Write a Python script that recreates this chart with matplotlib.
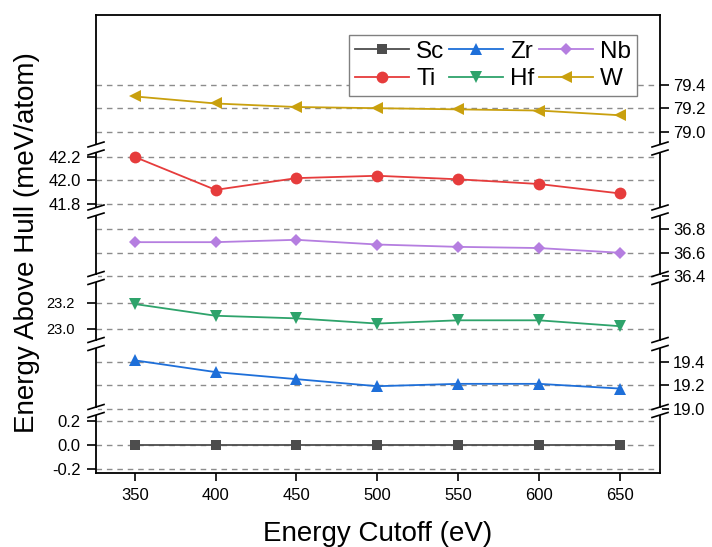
import matplotlib
matplotlib.use("Agg")
import matplotlib.pyplot as plt
from matplotlib.lines import Line2D
from matplotlib.patches import Rectangle

plt.rcParams['font.family'] = ['Liberation Sans', 'DejaVu Sans']
plt.rcParams['axes.unicode_minus'] = False

# ---- data: energy above hull (meV/atom) vs plane-wave cutoff (eV) ----
cutoff = [350, 400, 450, 500, 550, 600, 650]
xticks = [350, 400, 450, 500, 550, 600, 650]

e_sc = [0.00, 0.00, 0.00, 0.00, 0.00, 0.00, 0.00]
e_ti = [42.20, 41.92, 42.02, 42.04, 42.01, 41.97, 41.89]
e_zr = [19.41, 19.31, 19.25, 19.19, 19.21, 19.21, 19.17]
e_hf = [23.19, 23.10, 23.08, 23.04, 23.065, 23.065, 23.02]
e_nb = [36.69, 36.69, 36.71, 36.67, 36.65, 36.64, 36.60]
e_w = [79.30, 79.24, 79.21, 79.20, 79.19, 79.18, 79.14]

ticks_w = [79.0, 79.2, 79.4]
ticks_ti = [41.8, 42.0, 42.2]
ticks_nb = [36.4, 36.6, 36.8]
ticks_hf = [23.0, 23.2]
ticks_zr = [19.0, 19.2, 19.4]
ticks_sc = [-0.2, 0.0, 0.2]

# ---- figure geometry (pixels) ----
W, H = 712, 547
X0, X1 = 96, 660
edges = [15, 148.5, 211.5, 278, 344, 411, 473]   # broken-axis segment borders

fig = plt.figure(figsize=(W / 100, H / 100), dpi=100)

# segments from top to bottom
panels = [
    dict(label='W', y=e_w, color='#c9a00e', marker='<', ms=9,
         lim=(78.857, 79.993), ticks=ticks_w, side='right'),
    dict(label='Ti', y=e_ti, color='#e63c3c', marker='o', ms=8.5,
         lim=(41.736, 42.272), ticks=ticks_ti, side='left'),
    dict(label='Nb', y=e_nb, color='#b57ee0', marker='D', ms=6.2,
         lim=(36.385, 36.951), ticks=ticks_nb, side='right'),
    dict(label='Hf', y=e_hf, color='#2ea36b', marker='v', ms=9,
         lim=(22.883, 23.39), ticks=ticks_hf, side='left'),
    dict(label='Zr', y=e_zr, color='#1e6fd9', marker='^', ms=9,
         lim=(18.979, 19.549), ticks=ticks_zr, side='right'),
    dict(label='Sc', y=e_sc, color='#4d4d4d', marker='s', ms=6.5,
         lim=(-0.238, 0.289), ticks=ticks_sc, side='left'),
]

handles = {}
axes = []
n = len(panels)
for i, p in enumerate(panels):
    top, bot = edges[i], edges[i + 1]
    ax = fig.add_axes([X0 / W, 1 - bot / H, (X1 - X0) / W, (bot - top) / H])
    axes.append(ax)
    ax.set_xlim(326, 675)
    ax.set_ylim(*p['lim'])
    ax.set_yticks(p['ticks'])
    ax.yaxis.set_major_formatter(matplotlib.ticker.FormatStrFormatter('%.1f'))
    ax.set_axisbelow(True)
    ax.grid(True, axis='y', color='#8c8c8c', linestyle=(0, (4, 3.5)), linewidth=1.0)

    line, = ax.plot(cutoff, p['y'], color=p['color'], marker=p['marker'],
                    markersize=p['ms'], linewidth=1.3, label=p['label'],
                    markeredgewidth=0, clip_on=False)
    handles[p['label']] = line

    for s in ax.spines.values():
        s.set_linewidth(1.3)
    ax.spines['top'].set_visible(i == 0)
    ax.spines['bottom'].set_visible(i == n - 1)

    left = p['side'] == 'left'
    small = p['label'] == 'Hf'
    ax.tick_params(axis='y', direction='out', length=6.5, width=1.2,
                   left=left, labelleft=left, right=not left, labelright=not left,
                   labelsize=10.5 if small else 12,
                   pad=(9 if small else 4.5) if left else 3)
    if i == n - 1:
        ax.set_xticks(xticks)
        ax.tick_params(axis='x', direction='out', length=6, width=1.2,
                       labelsize=12, pad=5, top=False)
    else:
        ax.tick_params(axis='x', bottom=False, labelbottom=False, top=False)

# ---- break marks on both spines ----
def fx(px):
    return px / W

def fy(py):
    return 1 - py / H

for yb in edges[1:-1]:
    for xs in (X0, X1):
        fig.add_artist(Rectangle((fx(xs - 2), fy(yb + 3.5)), 4 / W, 7 / H,
                                 transform=fig.transFigure, facecolor='white',
                                 edgecolor='none', zorder=9))
        for dy in (-4, 4):
            fig.add_artist(Line2D([fx(xs - 8), fx(xs + 8)],
                                  [fy(yb + dy + 2.5), fy(yb + dy - 2.5)],
                                  transform=fig.transFigure, color='black',
                                  linewidth=1.2, zorder=10))

# ---- legend ----
order = ['Sc', 'Ti', 'Zr', 'Hf', 'Nb', 'W']
leg = axes[0].legend([handles[k] for k in order], order, ncol=3,
                     loc='upper right',
                     bbox_to_anchor=(fx(637), fy(34.7)),
                     bbox_transform=fig.transFigure,
                     fontsize=17.5, frameon=True, fancybox=False, framealpha=1,
                     edgecolor='#808080', handlelength=2.2, handletextpad=0.3,
                     columnspacing=0.2, borderpad=0.25, labelspacing=0.22,
                     borderaxespad=0)
leg.get_frame().set_linewidth(1.0)
leg.set_zorder(20)

# ---- axis titles ----
fig.text(fx(378), fy(541), 'Energy Cutoff (eV)', fontsize=20,
         ha='center', va='baseline')
fig.text(fx(27), fy(243), 'Energy Above Hull (meV/atom)', fontsize=20,
         rotation=90, ha='center', va='center')

fig.savefig('out.png', dpi=100)
